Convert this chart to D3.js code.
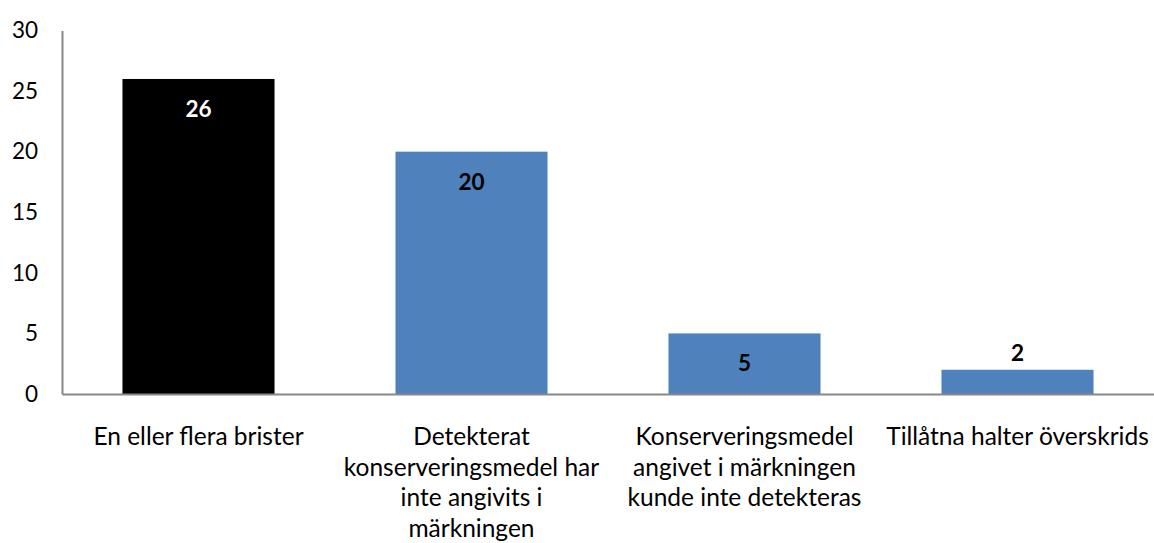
<!DOCTYPE html>
<html>
<head>
<meta charset="utf-8">
<title>Brister</title>
<script src="https://d3js.org/d3.v7.min.js"></script>
<style>
  body { margin: 0; background: #fff; }
  svg text { font-family: "Lato", "Liberation Sans", sans-serif; }
</style>
</head>
<body>
<script>
// chart data
const categories = ["En eller flera brister", "Detekterat konserveringsmedel har inte angivits i märkningen",
  "Konserveringsmedel angivet i märkningen kunde inte detekteras", "Tillåtna halter överskrids"];
const labelLines = [
  ["En eller flera brister"],
  ["Detekterat", "konserveringsmedel har", "inte angivits i", "märkningen"],
  ["Konserveringsmedel", "angivet i märkningen", "kunde inte detekteras"],
  ["Tillåtna halter överskrids"]
];
const values = [26, 20, 5, 2];
const barColors = ["#000000", "#4f81bd", "#4f81bd", "#4f81bd"];
const yTicks = [0, 5, 10, 15, 20, 25, 30];

const w = 1154, h = 543;
const plotLeft = 62, plotRight = 1154, plotTop = 30.5, plotBottom = 394;

const svg = d3.select("body").append("svg")
  .attr("width", w)
  .attr("height", h);

const x = d3.scaleBand()
  .domain(categories)
  .range([plotLeft, plotRight])
  .paddingInner(0.443)
  .paddingOuter(0.2215);

const y = d3.scaleLinear()
  .domain([0, 30])
  .range([plotBottom, plotTop]);

// bars
svg.selectAll("rect.bar")
  .data(values)
  .enter()
  .append("rect")
  .attr("class", "bar")
  .attr("x", (d, i) => x(categories[i]))
  .attr("y", d => y(d))
  .attr("width", x.bandwidth())
  .attr("height", d => y(0) - y(d))
  .attr("fill", (d, i) => barColors[i]);

// y axis
const yAxis = d3.axisLeft(y).tickValues(yTicks).tickSize(0).tickPadding(24);
const gy = svg.append("g")
  .attr("transform", `translate(${plotLeft},0)`)
  .call(yAxis);
gy.select(".domain").attr("stroke", "#888").attr("stroke-width", 2);
gy.selectAll("text").attr("font-size", 22.5).attr("fill", "#000")
  .style("font-family", "Lato, sans-serif");

// x axis
const xAxis = d3.axisBottom(x).tickSize(0).tickFormat("");
const gx = svg.append("g")
  .attr("transform", `translate(0,${plotBottom})`)
  .call(xAxis);
gx.select(".domain").attr("stroke", "#888").attr("stroke-width", 2);

// category labels
categories.forEach((c, i) => {
  const t = svg.append("text")
    .attr("x", x(c) + x.bandwidth() / 2)
    .attr("y", 445)
    .attr("text-anchor", "middle")
    .attr("font-size", 24.5)
    .attr("fill", "#000");
  labelLines[i].forEach((line, j) => {
    t.append("tspan")
      .attr("x", x(c) + x.bandwidth() / 2)
      .attr("dy", j === 0 ? 0 : 30.5)
      .text(line);
  });
});

// value labels
svg.selectAll("text.val")
  .data(values)
  .enter()
  .append("text")
  .attr("class", "val")
  .attr("x", (d, i) => x(categories[i]) + x.bandwidth() / 2)
  .attr("y", d => d >= 5 ? y(d) + 38 : y(d) - 9)
  .attr("text-anchor", "middle")
  .attr("font-size", 22.5)
  .attr("font-weight", "bold")
  .attr("fill", (d, i) => i === 0 ? "#fff" : "#000")
  .text(d => d);
</script>
</body>
</html>
